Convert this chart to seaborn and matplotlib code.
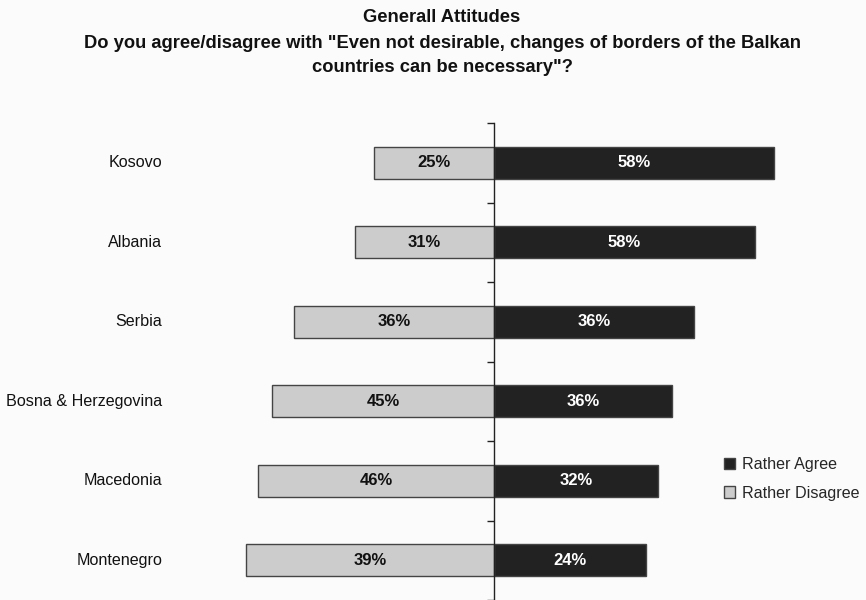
import numpy as np
import pandas as pd
import seaborn as sns
import matplotlib.pyplot as plt
from matplotlib.patches import Patch
import matplotlib.transforms as mtransforms

countries = ["Kosovo", "Albania", "Serbia", "Bosna & Herzegovina", "Macedonia", "Montenegro"]
rather_agree = [58, 58, 36, 36, 32, 24]
rather_disagree = [25, 31, 36, 45, 46, 39]

# Bar lengths: share of each answer among respondents who gave an opinion
agree = np.array(rather_agree, dtype=float)
disagree = np.array(rather_disagree, dtype=float)
total = agree + disagree
df = pd.DataFrame({
    "country": countries,
    "agree_share": 100 * agree / total,
    "disagree_share": -100 * disagree / total,
})

sns.set_style("white")
plt.rcParams["font.family"] = ["Liberation Sans", "DejaVu Sans"]

bg = "#fbfbfb"
dark = "#222222"
light = "#cccccc"
edge = "#444444"

W, H = 866, 600
fig = plt.figure(figsize=(W / 100, H / 100), dpi=100, facecolor=bg)
ax = fig.add_axes([170 / W, 0, 650 / W, 477 / H], facecolor=bg)

sns.barplot(data=df, x="agree_share", y="country", orient="h", color=dark,
            width=0.4, edgecolor=edge, linewidth=1, ax=ax, saturation=1)
sns.barplot(data=df, x="disagree_share", y="country", orient="h", color=light,
            width=0.4, edgecolor=edge, linewidth=1, ax=ax, saturation=1)

ax.set_xlim((170 - 494) / 4, (820 - 494) / 4)
ax.set_ylim(len(countries) - 0.5, -0.5)
ax.set_xlabel("")
ax.set_ylabel("")
ax.set_xticks([])

for s in ["top", "right", "bottom"]:
    ax.spines[s].set_visible(False)
ax.spines["left"].set_position(("data", 0))
ax.spines["left"].set_color("#222222")
ax.spines["left"].set_linewidth(1)
ax.set_yticks(np.arange(-0.5, len(countries), 1))
ax.tick_params(axis="y", direction="out", length=5, width=1, color="#222222",
               labelleft=False, left=True)

# Category names to the left of the chart
trans = mtransforms.blended_transform_factory(fig.transFigure, ax.transData)
for i, name in enumerate(countries):
    ax.text(162 / W, i, name, transform=trans, ha="right", va="center",
            fontsize=11.6, color="#111111")

# Value labels centred in the bars
for i in range(len(countries)):
    ax.text(df["agree_share"][i] / 2, i, f"{rather_agree[i]}%", ha="center",
            va="center", fontsize=12, fontweight="bold", color="white")
    ax.text(df["disagree_share"][i] / 2, i, f"{rather_disagree[i]}%", ha="center",
            va="center", fontsize=12, fontweight="bold", color="#111111")

# Title
title_lines = [
    "Generall Attitudes",
    'Do you agree/disagree with "Even not desirable, changes of borders of the Balkan',
    'countries can be necessary"?',
]
for y, line in zip([17, 44, 68], title_lines):
    fig.text(442 / W, 1 - y / H, line, ha="center", va="center",
             fontsize=13.2, fontweight="bold", color="#111111")

handles = [Patch(facecolor=dark, edgecolor=edge, label="Rather Agree"),
           Patch(facecolor=light, edgecolor=edge, label="Rather Disagree")]
fig.legend(handles=handles, loc="upper left", bbox_to_anchor=(724 / W, 1 - 457 / H),
           frameon=False, fontsize=11.6, handlelength=0.7, handleheight=0.7,
           handletextpad=0.4, labelspacing=0.85, borderaxespad=0, borderpad=0)

fig.savefig("out.png", dpi=100, facecolor=bg)
